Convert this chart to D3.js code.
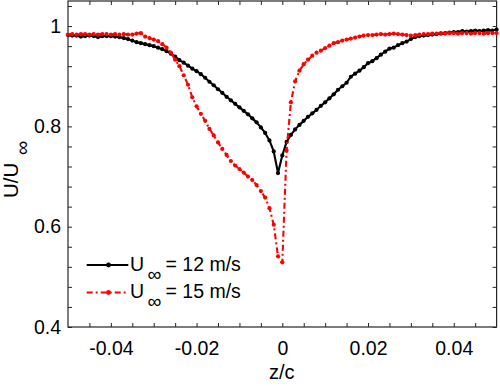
<!DOCTYPE html>
<html>
<head>
<meta charset="utf-8">
<script src="https://cdn.jsdelivr.net/npm/d3@7"></script>
<style>
  html, body { margin: 0; padding: 0; background: #fff; }
  svg { display: block; }
  text { font-family: "Liberation Sans", Arial, Helvetica, sans-serif; fill: #000; }
</style>
</head>
<body>
<svg id="chart" width="500" height="386"></svg>
<script>
// ---- data ----
const zc = d3.range(-50, 51).map(i => i / 1000);   // z/c sample positions, step 0.001

const u12 = [
  0.982, 0.981, 0.981, 0.979, 0.980, 0.981, 0.980, 0.978, 0.980, 0.980,
  0.980, 0.979, 0.978, 0.976, 0.974, 0.971, 0.968, 0.966, 0.964, 0.962,
  0.960, 0.957, 0.954, 0.950, 0.945, 0.939, 0.932, 0.927, 0.921, 0.915,
  0.910, 0.904, 0.897, 0.889, 0.882, 0.874, 0.867, 0.859, 0.852, 0.845,
  0.838, 0.831, 0.824, 0.816, 0.808, 0.798, 0.787, 0.772, 0.750, 0.707,
  0.742,
  0.769, 0.783, 0.794, 0.803, 0.811, 0.819, 0.826, 0.833, 0.841, 0.848,
  0.856, 0.864, 0.873, 0.880, 0.887, 0.899, 0.905, 0.911, 0.918, 0.926,
  0.930, 0.936, 0.943, 0.949, 0.955, 0.957, 0.962, 0.966, 0.969, 0.974,
  0.978, 0.980, 0.981, 0.982, 0.983, 0.984, 0.985, 0.986, 0.987, 0.988,
  0.988, 0.990, 0.989, 0.990, 0.991, 0.990, 0.991, 0.992, 0.991, 0.993
];

const u15 = [
  0.983, 0.984, 0.983, 0.984, 0.984, 0.983, 0.984, 0.983, 0.984, 0.984,
  0.983, 0.984, 0.983, 0.984, 0.983, 0.983, 0.985, 0.986, 0.979, 0.976,
  0.973, 0.970, 0.964, 0.957, 0.947, 0.933, 0.920, 0.902, 0.883, 0.858,
  0.840, 0.825, 0.811, 0.795, 0.782, 0.768, 0.755, 0.743, 0.731, 0.722,
  0.715, 0.708, 0.700, 0.693, 0.683, 0.671, 0.658, 0.637, 0.604, 0.541,
  0.529,
  0.752, 0.848, 0.890, 0.911, 0.924, 0.933, 0.941, 0.947, 0.951, 0.956,
  0.961, 0.966, 0.968, 0.971, 0.973, 0.975, 0.977, 0.979, 0.981, 0.982,
  0.982, 0.983, 0.984, 0.983, 0.984, 0.985, 0.984, 0.983, 0.982, 0.981,
  0.982, 0.983, 0.984, 0.984, 0.985, 0.985, 0.986, 0.985, 0.986, 0.986,
  0.985, 0.986, 0.986, 0.985, 0.986, 0.986, 0.985, 0.986, 0.986, 0.986
];

const seriesNames = ["12 m/s", "15 m/s"];
const xTickValues = [-0.04, -0.02, 0, 0.02, 0.04];
const xTickLabels = ["-0.04", "-0.02", "0", "0.02", "0.04"];
const yTickValues = [0.4, 0.6, 0.8, 1];
const yTickLabels = ["0.4", "0.6", "0.8", "1"];
const xLabel = "z/c";

// ---- layout ----
const svg = d3.select("#chart");
const L = 68, R = 496.6, T = 1, B = 327;
const x = d3.scaleLinear().domain([-0.05, 0.05]).range([L, R]);
const y = d3.scaleLinear().domain([0.4, 1.05]).range([B, T]);

const xMinor = d3.range(-45, 46, 5).map(v => v / 1000);
const yMinor = d3.range(40, 105, 4).map(v => v / 100);
const axisColor = "#262626";
const tickFont = 19.5;

function styleAxis(g) {
  g.select(".domain").remove();
  g.selectAll(".tick line").attr("stroke", axisColor).attr("stroke-width", 1);
  g.selectAll("text").attr("font-size", tickFont).attr("font-family", "Liberation Sans, Arial, sans-serif").attr("fill", "#000");
}
function labelFor(vals, labels) {
  return d => {
    const i = vals.findIndex(v => Math.abs(v - d) < 1e-9);
    return i >= 0 ? labels[i] : "";
  };
}

// bottom
svg.append("g").attr("transform", `translate(0,${B})`)
  .call(d3.axisBottom(x).tickValues(xMinor).tickSize(-4).tickPadding(14)
    .tickFormat(labelFor(xTickValues, xTickLabels)))
  .call(styleAxis);
// top
svg.append("g").attr("transform", `translate(0,${T})`)
  .call(d3.axisTop(x).tickValues(xMinor).tickSize(-4).tickFormat(""))
  .call(styleAxis);
// left
svg.append("g").attr("transform", `translate(${L},0)`)
  .call(d3.axisLeft(y).tickValues(yMinor).tickSize(-4).tickPadding(7)
    .tickFormat(labelFor(yTickValues, yTickLabels)))
  .call(styleAxis);
// right
svg.append("g").attr("transform", `translate(${R},0)`)
  .call(d3.axisRight(y).tickValues(yMinor).tickSize(-4).tickFormat(""))
  .call(styleAxis);

// frame
svg.append("rect").attr("x", L).attr("y", T).attr("width", R - L).attr("height", B - T)
  .attr("fill", "none").attr("stroke", axisColor).attr("stroke-width", 1.2);

// ---- series ----
svg.append("clipPath").attr("id", "clip").append("rect")
  .attr("x", L - 3).attr("y", T).attr("width", R - L + 6).attr("height", B - T);

const line = d3.line().x(d => x(d[0])).y(d => y(d[1]));
const styles = [
  { color: "#000000", dash: null },
  { color: "#ff0000", dash: "6,3,2,3" }
];
[u12, u15].forEach((vals, k) => {
  const pts = zc.map((z, i) => [z, vals[i]]);
  const g = svg.append("g").attr("clip-path", "url(#clip)");
  g.append("path").attr("d", line(pts)).attr("fill", "none")
    .attr("stroke", styles[k].color).attr("stroke-width", 2.1)
    .attr("stroke-dasharray", styles[k].dash)
    .attr("stroke-linejoin", "round");
  g.selectAll("circle").data(pts).join("circle")
    .attr("cx", d => x(d[0])).attr("cy", d => y(d[1])).attr("r", 2.1)
    .attr("fill", styles[k].color);
});

// ---- legend ----
const legRows = [265, 292.5];
seriesNames.forEach((name, k) => {
  const ly = legRows[k];
  svg.append("line").attr("x1", 86.7).attr("x2", 128.3).attr("y1", ly).attr("y2", ly)
    .attr("stroke", styles[k].color).attr("stroke-width", 2.1)
    .attr("stroke-dasharray", styles[k].dash);
  svg.append("circle").attr("cx", 108.5).attr("cy", ly).attr("r", 2.4).attr("fill", styles[k].color);
  const t = svg.append("text").attr("font-size", tickFont).attr("y", ly + 5.5);
  t.append("tspan").attr("x", 130).text("U");
  t.append("tspan").attr("x", 147.5).attr("dy", 10).text("\u221E");
  t.append("tspan").attr("x", 165.5).attr("dy", -10).text("= " + name);
});

// ---- axis labels ----
svg.append("text").attr("x", (L + R) / 2 - 0.5).attr("y", 379).attr("text-anchor", "middle")
  .attr("font-size", 20).text(xLabel);

const yl = svg.append("text").attr("transform", "translate(17.5,198) rotate(-90)").attr("font-size", 20.5);
yl.append("tspan").attr("x", 0).attr("y", 0).text("U/U");
yl.append("tspan").attr("x", 43).attr("y", 11).attr("font-size", 20).text("\u221E");
</script>
</body>
</html>
